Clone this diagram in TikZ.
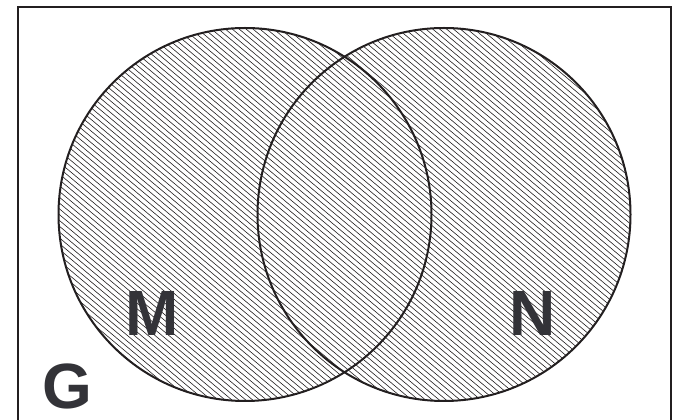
\documentclass[tikz,border=0pt]{standalone}
\usepackage{fontspec}
\setmainfont{Liberation Sans}
\definecolor{ink}{HTML}{231F20}
\definecolor{letter}{HTML}{333338}
\begin{document}
\begin{tikzpicture}[x=1pt,y=1pt,
  outline/.style={draw=ink,line width=2pt},
  hatchline/.style={draw=ink,line width=0.6pt},
  letterlabel/.style={font=\fontsize{64}{64}\selectfont\bfseries,text=letter,inner sep=0pt}]
\useasboundingbox (0,0) rectangle (677,420);
\fill[white] (0,0) rectangle (677,420);
% hatching
\begin{scope}
  \clip (245,205.5) circle (186.5);
  \foreach \c in {0,5.8,...,1000} {\draw[hatchline] (0,\c) -- (677,\c-568);}
\end{scope}
\begin{scope}
  \clip (444,205.5) circle (186.5);
  \begin{scope}[even odd rule]
    \clip (0,0) rectangle (677,420) (245,205.5) circle (186.5);
    \foreach \c in {0,5.8,...,1000} {\draw[hatchline] (0,\c) -- (677,\c-568);}
  \end{scope}
\end{scope}
% circles
\draw[outline] (245,205.5) circle (186.5);
\draw[outline] (444,205.5) circle (186.5);
% frame
\draw[outline] (18,-5) -- (18,413) -- (671,413) -- (671,-5);
% labels
\node[letterlabel] (M) at (152.5,107) {M};
\node[letterlabel] (N) at (533,106.5) {N};
\node[letterlabel] (G) at (67.5,34) {G};
\end{tikzpicture}
\end{document}
